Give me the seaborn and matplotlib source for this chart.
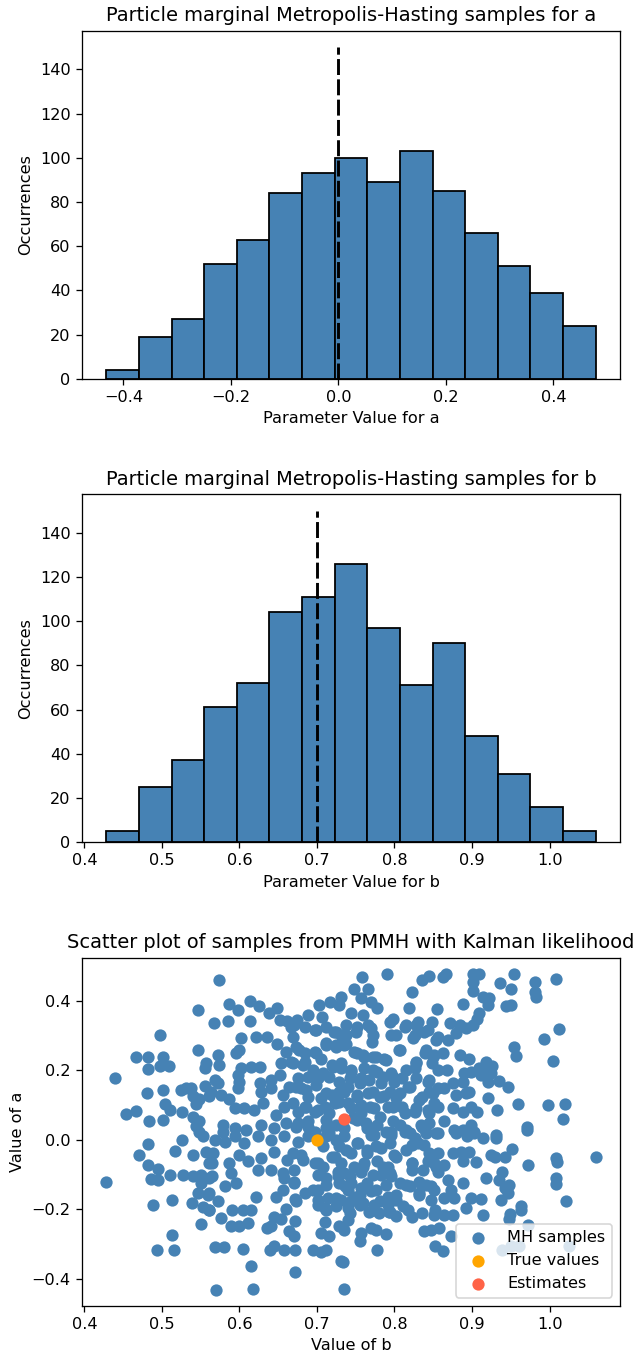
import numpy as np
import pandas as pd
import matplotlib
matplotlib.use("Agg")
import matplotlib.pyplot as plt
import seaborn as sns

# ---------------- data ----------------
# histogram of the PMMH samples of a (15 bins)
a_bin_range = (-0.4314, 0.4785)
a_counts = [4, 19, 27, 52, 63, 84, 93, 100, 89, 103, 85, 66, 51, 39, 24]
# histogram of the PMMH samples of b (15 bins)
b_bin_range = (0.4285, 1.0593)
b_counts = [5, 25, 37, 61, 72, 104, 111, 126, 97, 71, 90, 48, 31, 16, 5]

true_a, true_b = 0.0, 0.7
est_a, est_b = 0.060, 0.735

# MH samples (b, a)
mh_samples = [
    (0.547, 0.373), (0.498, 0.303), (0.547, 0.258), (0.467, 0.237), (0.482, 0.237), (0.501, 0.237),
    (0.498, 0.212), (0.509, 0.212), (0.482, 0.204), (0.557, 0.220), (0.556, 0.206), (0.439, 0.179),
    (0.555, 0.156), (0.531, 0.150), (0.525, 0.144), (0.538, 0.148), (0.481, 0.134), (0.502, 0.143),
    (0.540, 0.125), (0.548, 0.118), (0.561, 0.125), (0.544, 0.103), (0.504, 0.102), (0.510, 0.086),
    (0.454, 0.075), (0.467, 0.083), (0.526, 0.081), (0.483, 0.055), (0.502, 0.056), (0.540, 0.067),
    (0.548, 0.053), (0.544, 0.041), (0.548, 0.024),
    (0.574, 0.459), (0.586, 0.390), (0.598, 0.373), (0.614, 0.400), (0.625, 0.386), (0.638, 0.364),
    (0.648, 0.378), (0.567, 0.335), (0.585, 0.343), (0.614, 0.343), (0.652, 0.344), (0.662, 0.343),
    (0.674, 0.344), (0.688, 0.359), (0.703, 0.388), (0.717, 0.397), (0.707, 0.354), (0.697, 0.316),
    (0.722, 0.311), (0.666, 0.325), (0.602, 0.294), (0.621, 0.297), (0.635, 0.297), (0.669, 0.297),
    (0.649, 0.275), (0.600, 0.258), (0.596, 0.251), (0.660, 0.254), (0.677, 0.258), (0.697, 0.254),
    (0.712, 0.278), (0.725, 0.273), (0.573, 0.244), (0.574, 0.215), (0.654, 0.220), (0.667, 0.225),
    (0.684, 0.225), (0.705, 0.234), (0.720, 0.215), (0.602, 0.206), (0.615, 0.209), (0.627, 0.211),
    (0.598, 0.187), (0.600, 0.167), (0.568, 0.172), (0.572, 0.163), (0.626, 0.163), (0.641, 0.172),
    (0.652, 0.187), (0.675, 0.177), (0.688, 0.182), (0.701, 0.177), (0.716, 0.182), (0.729, 0.167),
    (0.598, 0.148), (0.563, 0.139), (0.576, 0.129), (0.587, 0.118), (0.628, 0.139), (0.641, 0.148),
    (0.656, 0.129), (0.664, 0.153), (0.680, 0.148), (0.688, 0.124), (0.705, 0.120), (0.720, 0.129),
    (0.729, 0.110), (0.594, 0.091), (0.606, 0.091), (0.619, 0.086), (0.630, 0.105), (0.647, 0.072),
    (0.658, 0.096), (0.675, 0.081), (0.686, 0.096), (0.701, 0.086), (0.716, 0.077), (0.579, 0.043),
    (0.579, 0.024), (0.594, 0.034), (0.609, 0.029), (0.628, 0.043), (0.645, 0.034), (0.660, 0.048),
    (0.673, 0.038), (0.688, 0.053), (0.697, 0.024), (0.712, 0.034), (0.725, 0.043),
    (0.790, 0.478), (0.758, 0.469), (0.836, 0.459), (0.845, 0.472), (0.863, 0.469), (0.866, 0.4785),
    (0.748, 0.435), (0.766, 0.435), (0.823, 0.426), (0.731, 0.411), (0.757, 0.407), (0.770, 0.397),
    (0.777, 0.378), (0.819, 0.380), (0.855, 0.376), (0.888, 0.392), (0.729, 0.388), (0.744, 0.364),
    (0.759, 0.359), (0.798, 0.347), (0.815, 0.330), (0.830, 0.340), (0.849, 0.340), (0.871, 0.335),
    (0.884, 0.330), (0.737, 0.330), (0.750, 0.311), (0.731, 0.301), (0.770, 0.321), (0.795, 0.301),
    (0.826, 0.301), (0.838, 0.311), (0.856, 0.297), (0.869, 0.287), (0.879, 0.306), (0.892, 0.321),
    (0.771, 0.282), (0.806, 0.258), (0.735, 0.273), (0.748, 0.254), (0.759, 0.244), (0.772, 0.239),
    (0.787, 0.234), (0.841, 0.258), (0.851, 0.244), (0.862, 0.249), (0.884, 0.244), (0.896, 0.234),
    (0.828, 0.225), (0.826, 0.206), (0.849, 0.220), (0.868, 0.201), (0.890, 0.191), (0.731, 0.206),
    (0.744, 0.201), (0.761, 0.206), (0.778, 0.196), (0.795, 0.191), (0.810, 0.177), (0.742, 0.177),
    (0.755, 0.163), (0.767, 0.172), (0.782, 0.163), (0.800, 0.167), (0.817, 0.153), (0.843, 0.167),
    (0.856, 0.148), (0.864, 0.148), (0.875, 0.163), (0.888, 0.167), (0.735, 0.139), (0.752, 0.129),
    (0.772, 0.139), (0.787, 0.125), (0.802, 0.120), (0.832, 0.115), (0.845, 0.139), (0.851, 0.105),
    (0.879, 0.129), (0.892, 0.134), (0.740, 0.105), (0.757, 0.101), (0.774, 0.091), (0.791, 0.096),
    (0.810, 0.096), (0.826, 0.081), (0.843, 0.086), (0.875, 0.091), (0.888, 0.081), (0.899, 0.096),
    (0.746, 0.062), (0.763, 0.048), (0.778, 0.043), (0.798, 0.053), (0.815, 0.029), (0.834, 0.043),
    (0.845, 0.048), (0.864, 0.053), (0.877, 0.029), (0.888, 0.029), (0.899, 0.043), (0.735, 0.034),
    (0.795, 0.024), (0.841, 0.024),
    (0.901, 0.478), (0.909, 0.478), (0.954, 0.476), (0.901, 0.455), (0.936, 0.452), (0.981, 0.453),
    (1.008, 0.462), (0.901, 0.428), (0.950, 0.433), (0.981, 0.426), (0.982, 0.411), (0.914, 0.411),
    (0.922, 0.407), (0.920, 0.388), (0.944, 0.385), (0.950, 0.388), (0.909, 0.364), (0.907, 0.349),
    (0.901, 0.330), (1.012, 0.319), (0.993, 0.289), (0.954, 0.268), (0.957, 0.242), (1.004, 0.228),
    (0.918, 0.225), (0.926, 0.212), (0.909, 0.206), (0.899, 0.196), (0.918, 0.201), (0.911, 0.187),
    (0.924, 0.191), (0.920, 0.167), (0.935, 0.170), (0.946, 0.151), (0.896, 0.139), (0.920, 0.120),
    (0.959, 0.102), (0.998, 0.099), (1.020, 0.102), (0.907, 0.080), (0.932, 0.086), (1.017, 0.059),
    (0.971, 0.038), (0.903, 0.024), (0.931, 0.015),
    (0.553, 0.010), (0.526, 0.000), (0.482, -0.011), (0.470, -0.043), (0.517, -0.031), (0.540, -0.043),
    (0.557, -0.034), (0.561, -0.067), (0.482, -0.072), (0.495, -0.084), (0.510, -0.100), (0.486, -0.113),
    (0.495, -0.115), (0.4285, -0.120), (0.527, -0.102), (0.540, -0.105), (0.551, -0.100), (0.551, -0.124),
    (0.561, -0.110), (0.546, -0.153), (0.559, -0.158), (0.513, -0.172), (0.489, -0.187), (0.539, -0.182),
    (0.553, -0.194), (0.561, -0.201), (0.550, -0.241), (0.513, -0.273), (0.494, -0.318), (0.515, -0.318),
    (0.568, 0.000), (0.581, -0.005), (0.594, 0.010), (0.606, -0.010), (0.624, 0.010), (0.641, 0.000),
    (0.658, 0.010), (0.675, -0.005), (0.688, 0.010), (0.712, 0.010), (0.725, 0.000), (0.566, -0.038),
    (0.564, -0.067), (0.587, -0.067), (0.600, -0.043), (0.611, -0.062), (0.628, -0.053), (0.645, -0.034),
    (0.662, -0.057), (0.680, -0.043), (0.701, -0.067), (0.720, -0.048), (0.589, -0.096), (0.596, -0.124),
    (0.624, -0.086), (0.641, -0.086), (0.656, -0.096), (0.658, -0.110), (0.671, -0.122), (0.701, -0.100),
    (0.712, -0.110), (0.727, -0.105), (0.564, -0.105), (0.581, -0.134), (0.561, -0.153), (0.621, -0.165),
    (0.647, -0.163), (0.656, -0.144), (0.672, -0.170), (0.695, -0.144), (0.701, -0.172), (0.714, -0.167),
    (0.725, -0.167), (0.572, -0.177), (0.561, -0.201), (0.591, -0.201), (0.604, -0.201), (0.615, -0.201),
    (0.660, -0.199), (0.710, -0.196), (0.576, -0.225), (0.589, -0.249), (0.600, -0.249), (0.611, -0.239),
    (0.645, -0.222), (0.654, -0.228), (0.672, -0.232), (0.636, -0.254), (0.641, -0.247), (0.664, -0.263),
    (0.671, -0.277), (0.710, -0.236), (0.705, -0.268), (0.716, -0.276), (0.569, -0.308), (0.580, -0.308),
    (0.604, -0.314), (0.639, -0.316), (0.645, -0.306), (0.658, -0.316), (0.672, -0.316), (0.695, -0.318),
    (0.705, -0.323), (0.712, -0.318), (0.615, -0.364), (0.672, -0.380), (0.570, -0.4314), (0.618, -0.430),
    (0.731, -0.349), (0.735, -0.430),
    (0.735, 0.010), (0.752, -0.010), (0.770, 0.014), (0.795, 0.014), (0.813, 0.024), (0.826, 0.005),
    (0.841, 0.019), (0.856, 0.019), (0.879, 0.019), (0.894, 0.010), (0.729, -0.019), (0.744, -0.038),
    (0.765, -0.029), (0.783, -0.024), (0.800, -0.043), (0.823, -0.014), (0.838, -0.014), (0.847, -0.043),
    (0.856, -0.038), (0.875, -0.038), (0.886, -0.034), (0.896, -0.034), (0.731, -0.067), (0.748, -0.077),
    (0.761, -0.067), (0.778, -0.062), (0.791, -0.077), (0.823, -0.067), (0.843, -0.062), (0.851, -0.067),
    (0.864, -0.072), (0.888, -0.062), (0.735, -0.096), (0.757, -0.091), (0.783, -0.100), (0.795, -0.105),
    (0.823, -0.086), (0.856, -0.091), (0.869, -0.115), (0.729, -0.124), (0.744, -0.124), (0.765, -0.124),
    (0.815, -0.129), (0.832, -0.120), (0.841, -0.129), (0.851, -0.144), (0.873, -0.144), (0.888, -0.124),
    (0.740, -0.144), (0.755, -0.158), (0.770, -0.148), (0.791, -0.163), (0.802, -0.158), (0.832, -0.158),
    (0.847, -0.172), (0.864, -0.167), (0.877, -0.167), (0.731, -0.172), (0.744, -0.177), (0.759, -0.182),
    (0.774, -0.187), (0.791, -0.187), (0.802, -0.172), (0.892, -0.196), (0.740, -0.196), (0.767, -0.206),
    (0.780, -0.211), (0.793, -0.206), (0.802, -0.218), (0.817, -0.201), (0.823, -0.222), (0.851, -0.215),
    (0.864, -0.215), (0.875, -0.215), (0.740, -0.230), (0.729, -0.249), (0.735, -0.258), (0.757, -0.268),
    (0.755, -0.292), (0.770, -0.254), (0.776, -0.258), (0.789, -0.270), (0.838, -0.263), (0.847, -0.258),
    (0.858, -0.254), (0.873, -0.276), (0.852, -0.306), (0.862, -0.320), (0.778, -0.318), (0.733, -0.352),
    (0.903, 0.019), (0.914, 0.005), (0.931, 0.005), (0.971, 0.029), (0.924, -0.043), (0.929, -0.048),
    (0.942, -0.048), (0.952, -0.027), (1.008, -0.053), (1.010, -0.064), (1.0593, -0.050), (0.905, -0.064),
    (0.972, -0.072), (0.939, -0.091), (0.918, -0.110), (0.935, -0.115), (1.008, -0.110), (1.008, -0.127),
    (0.942, -0.139), (0.948, -0.129), (0.946, -0.153), (0.899, -0.167), (0.911, -0.170), (0.937, -0.174),
    (1.021, -0.177), (0.963, -0.189), (0.963, -0.203), (0.914, -0.215), (0.949, -0.212), (0.948, -0.228),
    (0.972, -0.244), (0.939, -0.316), (0.950, -0.304), (0.961, -0.304), (1.025, -0.306),
    # dense core
    (0.671, 0.330), (0.684, 0.325), (0.699, 0.316), (0.712, 0.325), (0.725, 0.311), (0.738, 0.301),
    (0.751, 0.325), (0.766, 0.330), (0.772, 0.301), (0.794, 0.340), (0.802, 0.301), (0.813, 0.325),
    (0.828, 0.330), (0.843, 0.316), (0.854, 0.287), (0.824, 0.292), (0.807, 0.258),
    (0.673, 0.268), (0.684, 0.249), (0.699, 0.249), (0.712, 0.273), (0.725, 0.268), (0.738, 0.277),
    (0.751, 0.249), (0.761, 0.239), (0.776, 0.239), (0.789, 0.230), (0.839, 0.249), (0.850, 0.239),
    (0.828, 0.220),
    (0.669, 0.220), (0.682, 0.215), (0.695, 0.201), (0.708, 0.191), (0.721, 0.210), (0.731, 0.220),
    (0.744, 0.196), (0.757, 0.177), (0.772, 0.201), (0.785, 0.182), (0.798, 0.182), (0.815, 0.201),
    (0.828, 0.177), (0.845, 0.172), (0.856, 0.201),
    (0.673, 0.153), (0.686, 0.143), (0.699, 0.158), (0.712, 0.134), (0.729, 0.139), (0.740, 0.153),
    (0.751, 0.124), (0.766, 0.134), (0.781, 0.124), (0.794, 0.139), (0.807, 0.134), (0.820, 0.153),
    (0.835, 0.124), (0.850, 0.134),
    (0.669, 0.105), (0.684, 0.096), (0.697, 0.081), (0.710, 0.096), (0.723, 0.105), (0.744, 0.091),
    (0.757, 0.077), (0.768, 0.096), (0.781, 0.067), (0.798, 0.096), (0.813, 0.077), (0.828, 0.091),
    (0.845, 0.077), (0.856, 0.096),
    (0.675, 0.048), (0.688, 0.038), (0.712, 0.057), (0.716, 0.019), (0.751, 0.057), (0.764, 0.033),
    (0.774, 0.014), (0.789, 0.024), (0.807, 0.043), (0.820, 0.019), (0.835, 0.038), (0.854, 0.019),
    (0.669, -0.038), (0.682, -0.057), (0.708, -0.019), (0.723, -0.048), (0.738, -0.029), (0.753, -0.010),
    (0.764, -0.038), (0.776, -0.019), (0.794, -0.010), (0.802, -0.048), (0.815, -0.029), (0.830, -0.010),
    (0.845, -0.038),
    (0.671, -0.086), (0.697, -0.067), (0.708, -0.077), (0.727, -0.091), (0.742, -0.105), (0.759, -0.077),
    (0.772, -0.100), (0.785, -0.077), (0.794, -0.096), (0.822, -0.067), (0.837, -0.086), (0.854, -0.077),
    (0.671, -0.124), (0.684, -0.153), (0.701, -0.144), (0.712, -0.129), (0.736, -0.134), (0.749, -0.163),
    (0.757, -0.139), (0.776, -0.144), (0.789, -0.129), (0.807, -0.124), (0.820, -0.134), (0.832, -0.153),
    (0.847, -0.134),
    (0.673, -0.177), (0.701, -0.187), (0.712, -0.201), (0.725, -0.191), (0.742, -0.210), (0.755, -0.187),
    (0.772, -0.201), (0.781, -0.177), (0.794, -0.206), (0.811, -0.191), (0.835, -0.210), (0.852, -0.201),
]

# ---------------- figure ----------------
DPI = 116
fig = plt.figure(figsize=(635 / DPI, 1354 / DPI), dpi=DPI)
left, width, height = 82 / 635, 538 / 635, 348 / 1354
ax1 = fig.add_axes([left, 1 - 378.7 / 1354, width, height])
ax2 = fig.add_axes([left, 1 - 842.2 / 1354, width, height])
ax3 = fig.add_axes([left, 1 - 1305.7 / 1354, width, height])


def draw_hist(ax, rng, counts, true_val, name):
    step = (rng[1] - rng[0]) / len(counts)
    centers = [rng[0] + step * (i + 0.5) for i in range(len(counts))]
    df = pd.DataFrame({"value": centers, "count": counts})
    sns.histplot(data=df, x="value", weights="count", bins=len(counts), binrange=rng,
                 color="steelblue", edgecolor="black", linewidth=1.1, alpha=1.0, ax=ax)
    ax.plot([true_val, true_val], [0, 150], color="black", lw=1.8, dashes=(5.5, 1.5))
    ax.set_title(f"Particle marginal Metropolis-Hasting samples for {name}", fontsize=12)
    ax.set_xlabel(f"Parameter Value for {name}")
    ax.set_ylabel("Occurrences")


draw_hist(ax1, a_bin_range, a_counts, true_a, "a")
draw_hist(ax2, b_bin_range, b_counts, true_b, "b")
ax1.set_yticks(range(0, 141, 20))
ax2.set_yticks(range(0, 141, 20))

MS = 58
sdf = pd.DataFrame(mh_samples, columns=["b", "a"])
sns.scatterplot(data=sdf, x="b", y="a", color="steelblue", s=MS, linewidth=0,
                label="MH samples", ax=ax3)
sns.scatterplot(x=[true_b], y=[true_a], color="orange", s=MS, linewidth=0,
                label="True values", ax=ax3)
sns.scatterplot(x=[est_b], y=[est_a], color="tomato", s=MS, linewidth=0,
                label="Estimates", ax=ax3)
ax3.set_title("Scatter plot of samples from PMMH with Kalman likelihood", fontsize=12)
ax3.set_xlabel("Value of b")
ax3.set_ylabel("Value of a")
ax3.legend(loc="lower right")

fig.savefig("out.png", dpi=DPI)
